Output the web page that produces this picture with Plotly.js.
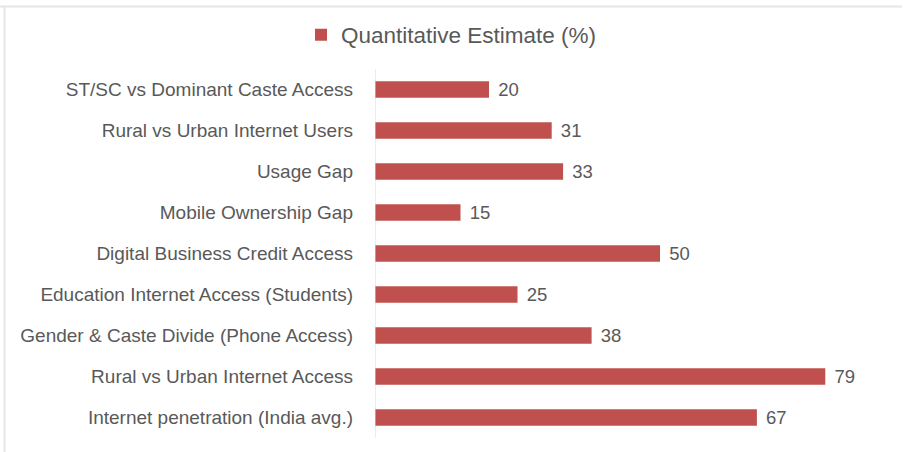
<!DOCTYPE html>
<html>
<head>
<meta charset="utf-8">
<script src="https://cdn.plot.ly/plotly-3.0.1.min.js"></script>
<style>
  html, body { margin: 0; padding: 0; background: #ffffff; }
  #chart { width: 903px; height: 452px; }
</style>
</head>
<body>
<div id="chart"></div>
<script>
// Data (top to bottom as shown)
const categories = [
  "ST/SC vs Dominant Caste Access",
  "Rural vs Urban Internet Users",
  "Usage Gap",
  "Mobile Ownership Gap",
  "Digital Business Credit Access",
  "Education Internet Access (Students)",
  "Gender & Caste Divide (Phone Access)",
  "Rural vs Urban Internet Access",
  "Internet penetration (India avg.)"
];
const values = [20, 31, 33, 15, 50, 25, 38, 79, 67];
const seriesName = "Quantitative Estimate (%)";

const W = 903, H = 452;
const M = { l: 375, r: 15, t: 69, b: 14 };
const pw = W - M.l - M.r, ph = H - M.t - M.b;
const px = v => (v - M.l) / pw;
const py = v => (H - M.b - v) / ph;

const trace = {
  type: "bar",
  orientation: "h",
  name: seriesName,
  y: categories,
  x: values,
  width: 0.4,
  marker: { color: "#C0504D" },
  texttemplate: "\u2004%{x}",
  textposition: "outside",
  constraintext: "none",
  cliponaxis: false,
  textfont: { family: "Liberation Sans, Arial, sans-serif", size: 18.5, color: "#595959" },
  showlegend: true,
  hoverinfo: "x+y"
};

const layout = {
  width: W, height: H,
  margin: M,
  paper_bgcolor: "#ffffff",
  plot_bgcolor: "#ffffff",
  font: { family: "Liberation Sans, Arial, sans-serif", color: "#595959", size: 19 },
  showlegend: true,
  legend: {
    orientation: "h",
    xref: "container", yref: "container",
    x: 0.5, xanchor: "center",
    y: 1 - 35 / H, yanchor: "middle",
    font: { size: 22.5, color: "#595959" },
    bgcolor: "rgba(0,0,0,0)"
  },
  bargap: 0.6,
  xaxis: {
    range: [0, 90],
    showticklabels: false,
    showgrid: false,
    zeroline: false,
    showline: false,
    ticks: "",
    fixedrange: true
  },
  yaxis: {
    autorange: "reversed",
    type: "category",
    showgrid: false,
    zeroline: false,
    showline: false,
    ticks: "",
    ticklabelstandoff: 21,
    tickfont: { size: 19, color: "#595959" },
    fixedrange: true
  },
  shapes: [
    // category axis line
    { type: "line", xref: "x", yref: "paper", x0: 0, x1: 0, y0: 0, y1: 1,
      line: { color: "#D9D9D9", width: 1 } },
    // outer frame (top and left)
    { type: "line", xref: "paper", yref: "paper", x0: px(0), x1: px(902), y0: py(6.5), y1: py(6.5),
      line: { color: "#E6E6E6", width: 2 } },
    { type: "line", xref: "paper", yref: "paper", x0: px(4.5), x1: px(4.5), y0: py(6), y1: py(452),
      line: { color: "#E6E6E6", width: 2 } }
  ]
};

Plotly.newPlot("chart", [trace], layout, { displayModeBar: false, staticPlot: true });
</script>
</body>
</html>
